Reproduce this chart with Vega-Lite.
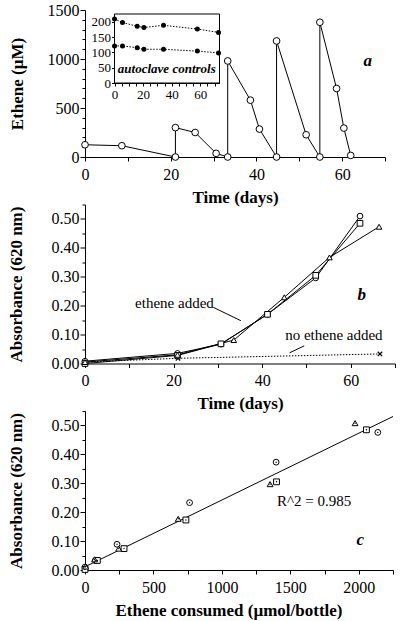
{
  "$schema": "https://vega.github.io/schema/vega-lite/v6.json",
  "background": "white",
  "padding": {"left": 6, "top": 2, "right": 4, "bottom": 4},
  "config": {
    "view": {"stroke": null},
    "font": "Liberation Serif",
    "axis": {
      "domainColor": "black", "tickColor": "black", "labelColor": "black", "titleColor": "black",
      "labelFont": "Liberation Serif", "titleFont": "Liberation Serif",
      "labelFontSize": 16, "titleFontSize": 17, "titleFontWeight": "bold",
      "grid": false, "domainWidth": 1, "tickWidth": 1, "labelFlush": false, "labelOverlap": false
    }
  },
  "datasets": {
    "a": [
      {"i": 0, "x": 0, "y": 125}, {"i": 1, "x": 8.6, "y": 115}, {"i": 2, "x": 21.1, "y": 0},
      {"i": 3, "x": 21.1, "y": 300}, {"i": 4, "x": 25.7, "y": 250}, {"i": 5, "x": 30.6, "y": 37},
      {"i": 6, "x": 33.3, "y": 0}, {"i": 7, "x": 33.3, "y": 980}, {"i": 8, "x": 38.6, "y": 580},
      {"i": 9, "x": 40.7, "y": 285}, {"i": 10, "x": 44.7, "y": 0}, {"i": 11, "x": 44.7, "y": 1184},
      {"i": 12, "x": 51.6, "y": 227}, {"i": 13, "x": 54.8, "y": 0}, {"i": 14, "x": 54.8, "y": 1375},
      {"i": 15, "x": 58.7, "y": 699}, {"i": 16, "x": 60.4, "y": 295}, {"i": 17, "x": 62.0, "y": 16}
    ],
    "inset": [
      {"s": "hi", "x": 0, "y": 209}, {"s": "hi", "x": 5.6, "y": 197}, {"s": "hi", "x": 15.9, "y": 185},
      {"s": "hi", "x": 20.6, "y": 181}, {"s": "hi", "x": 34.3, "y": 188}, {"s": "hi", "x": 58, "y": 176},
      {"s": "hi", "x": 72.8, "y": 165},
      {"s": "lo", "x": 0, "y": 121}, {"s": "lo", "x": 5.6, "y": 121}, {"s": "lo", "x": 15.9, "y": 115},
      {"s": "lo", "x": 20.6, "y": 110}, {"s": "lo", "x": 34.3, "y": 110}, {"s": "lo", "x": 58, "y": 104},
      {"s": "lo", "x": 72.8, "y": 98}
    ],
    "b": [
      {"s": "o", "x": 0, "y": 0.008}, {"s": "o", "x": 20.9, "y": 0.035}, {"s": "o", "x": 30.7, "y": 0.067},
      {"s": "o", "x": 41.2, "y": 0.17}, {"s": "o", "x": 52.1, "y": 0.296}, {"s": "o", "x": 62.1, "y": 0.51},
      {"s": "sq", "x": 0, "y": 0.0}, {"s": "sq", "x": 20.9, "y": 0.028}, {"s": "sq", "x": 30.7, "y": 0.068},
      {"s": "sq", "x": 41.2, "y": 0.17}, {"s": "sq", "x": 52.1, "y": 0.305}, {"s": "sq", "x": 62.1, "y": 0.485},
      {"s": "tri", "x": 0, "y": 0.005}, {"s": "tri", "x": 20.9, "y": 0.03}, {"s": "tri", "x": 33.6, "y": 0.081},
      {"s": "tri", "x": 45.0, "y": 0.229}, {"s": "tri", "x": 55.2, "y": 0.367}, {"s": "tri", "x": 66.4, "y": 0.473}
    ],
    "bNone": [
      {"x": 0, "y": 0.005}, {"x": 21, "y": 0.018}, {"x": 66.6, "y": 0.033}
    ],
    "bPtr": [
      {"x": 29.0, "y": 0.194, "x2": 35.2, "y2": 0.148},
      {"x": 49.5, "y": 0.061, "x2": 46.2, "y2": 0.037}
    ],
    "bText": [
      {"x": 20.2, "y": 0.21, "label": "ethene added"},
      {"x": 56.2, "y": 0.098, "label": "no ethene added"}
    ],
    "c": [
      {"s": "o", "x": 0, "y": 0.01}, {"s": "o", "x": 75, "y": 0.033}, {"s": "o", "x": 234, "y": 0.089},
      {"s": "o", "x": 764, "y": 0.233}, {"s": "o", "x": 1396, "y": 0.373}, {"s": "o", "x": 2139, "y": 0.476},
      {"s": "sq", "x": 0, "y": 0.002}, {"s": "sq", "x": 90, "y": 0.033}, {"s": "sq", "x": 285, "y": 0.074},
      {"s": "sq", "x": 737, "y": 0.173}, {"s": "sq", "x": 1399, "y": 0.305}, {"s": "sq", "x": 2056, "y": 0.485},
      {"s": "tri", "x": 5, "y": 0.012}, {"s": "tri", "x": 70, "y": 0.037}, {"s": "tri", "x": 246, "y": 0.074},
      {"s": "tri", "x": 681, "y": 0.177}, {"s": "tri", "x": 1352, "y": 0.297}, {"s": "tri", "x": 1973, "y": 0.508}
    ],
    "cFit": [{"x": 0, "y": 0.011}, {"x": 2250, "y": 0.531}]
  },
  "vconcat": [
    {
      "width": 300,
      "height": 147,
      "layer": [
        {
          "data": {"name": "a"},
          "encoding": {
            "x": {"field": "x", "type": "quantitative",
              "scale": {"domain": [0, 70], "nice": false},
              "axis": {"title": "Time  (days)", "values": [0, 10, 20, 30, 40, 50, 60, 70], "format": "d",
                "labelExpr": "datum.value % 20 === 0 ? datum.label : ''",
                "tickSize": 4, "labelPadding": 5, "titleY": 40, "titleBaseline": "middle"}},
            "y": {"field": "y", "type": "quantitative",
              "scale": {"domain": [0, 1500], "nice": false},
              "axis": {"title": "Ethene  (µM)", "format": "d",
                "values": [0, 100, 200, 300, 400, 500, 600, 700, 800, 900, 1000, 1100, 1200, 1300, 1400, 1500],
                "labelExpr": "datum.value % 500 === 0 ? datum.label : ''",
                "tickSize": {"condition": {"test": "datum.value % 500 === 0", "value": 5}, "value": 3},
                "labelPadding": 1, "titleX": -68, "titleBaseline": "middle"}}
          },
          "layer": [
            {"mark": {"type": "line", "color": "black", "strokeWidth": 1},
             "encoding": {"order": {"field": "i", "type": "quantitative"}}},
            {"mark": {"type": "point", "shape": "circle", "filled": true, "fill": "white", "stroke": "black", "strokeWidth": 1, "size": 45, "opacity": 1}},
            {"data": {"values": [{"x": 66, "y": 981, "label": "a"}]},
             "mark": {"type": "text", "font": "Liberation Serif", "fontSize": 17, "fontStyle": "italic", "fontWeight": "bold", "color": "black"},
             "encoding": {"text": {"field": "label"}}}
          ]
        },
        {
          "data": {"name": "inset"},
          "encoding": {
            "x": {"field": "x", "type": "quantitative",
              "scale": {"domain": [0, 73.5], "range": [29.5, 134.5], "nice": false},
              "axis": {"title": null, "orient": "bottom", "offset": -74, "format": "d",
                "values": [0, 5, 10, 15, 20, 25, 30, 35, 40, 45, 50, 55, 60, 65, 70],
                "labelExpr": "datum.value % 20 === 0 ? datum.label : ''",
                "labelFontSize": 13, "tickSize": 3, "labelPadding": 2}},
            "y": {"field": "y", "type": "quantitative",
              "scale": {"domain": [0, 225], "range": [73, 4], "nice": false},
              "axis": {"title": null, "orient": "left", "offset": -29.5, "format": "d",
                "values": [0, 50, 100, 150, 200],
                "labelFontSize": 13, "tickSize": 3, "labelPadding": 1}}
          },
          "layer": [
            {"data": {"values": [{"x": 0, "x2": 73.5, "y": 0, "y2": 225}]},
             "mark": {"type": "rect", "fill": "white", "stroke": "black", "strokeWidth": 1},
             "encoding": {"x2": {"field": "x2"}, "y2": {"field": "y2"}}},
            {"mark": {"type": "line", "color": "black", "strokeWidth": 1, "strokeDash": [1.5, 1.5]},
             "encoding": {"detail": {"field": "s"}}},
            {"mark": {"type": "point", "shape": "circle", "filled": true, "color": "black", "size": 25, "opacity": 1}},
            {"data": {"values": [{"x": 36.6, "y": 44.7, "label": "autoclave controls"}]},
             "mark": {"type": "text", "font": "Liberation Serif", "fontSize": 13, "fontStyle": "italic", "fontWeight": "bold", "color": "black"},
             "encoding": {"text": {"field": "label"}}}
          ]
        }
      ],
      "resolve": {"scale": {"x": "independent", "y": "independent"}}
    },
    {
      "width": 310,
      "height": 159,
      "encoding": {
        "x": {"field": "x", "type": "quantitative",
          "scale": {"domain": [0, 70], "nice": false},
          "axis": {"title": "Time  (days)", "values": [0, 10, 20, 30, 40, 50, 60, 70], "format": "d",
            "labelExpr": "datum.value % 20 === 0 ? datum.label : ''",
            "tickSize": 4, "labelPadding": 5, "titleY": 40, "titleBaseline": "middle"}},
        "y": {"field": "y", "type": "quantitative",
          "scale": {"domain": [0, 0.55], "nice": false},
          "axis": {"title": "Absorbance  (620 nm)",
            "values": [0, 0.05, 0.1, 0.15, 0.2, 0.25, 0.3, 0.35, 0.4, 0.45, 0.5, 0.55],
            "labelExpr": "round(datum.value * 100) % 10 === 0 ? format(datum.value, '.2f') : ''",
            "tickSize": {"condition": {"test": "round(datum.value * 100) % 10 === 0", "value": 5}, "value": 3},
            "labelPadding": 1, "titleX": -69, "titleBaseline": "middle"}}
      },
      "layer": [
        {"data": {"name": "bNone"},
         "mark": {"type": "line", "color": "black", "strokeWidth": 1, "strokeDash": [1.5, 1.5]}},
        {"data": {"name": "bNone"},
         "mark": {"type": "point", "shape": "M-1,-1L1,1M1,-1L-1,1", "filled": false, "stroke": "black", "strokeWidth": 1.2, "size": 20, "opacity": 1}},
        {"data": {"name": "b"},
         "mark": {"type": "line", "color": "black", "strokeWidth": 1},
         "encoding": {"detail": {"field": "s"}}},
        {"data": {"name": "b"},
         "mark": {"type": "point", "filled": true, "fill": "white", "stroke": "black", "strokeWidth": 1, "size": 32, "opacity": 1},
         "encoding": {"shape": {"field": "s", "type": "nominal",
           "scale": {"domain": ["o", "sq", "tri"], "range": ["circle", "square", "triangle-up"]}, "legend": null}}},
        {"data": {"name": "bPtr"},
         "mark": {"type": "rule", "color": "black", "strokeWidth": 1},
         "encoding": {"x2": {"field": "x2"}, "y2": {"field": "y2"}}},
        {"data": {"name": "bText"},
         "mark": {"type": "text", "font": "Liberation Serif", "fontSize": 15, "color": "black"},
         "encoding": {"text": {"field": "label"}}},
        {"data": {"values": [{"x": 62.5, "y": 0.237, "label": "b"}]},
         "mark": {"type": "text", "font": "Liberation Serif", "fontSize": 17, "fontStyle": "italic", "fontWeight": "bold", "color": "black"},
         "encoding": {"text": {"field": "label"}}}
      ]
    },
    {
      "width": 308,
      "height": 159,
      "encoding": {
        "x": {"field": "x", "type": "quantitative",
          "scale": {"domain": [0, 2250], "nice": false},
          "axis": {"title": "Ethene  consumed  (µmol/bottle)", "format": "d",
            "values": [0, 250, 500, 750, 1000, 1250, 1500, 1750, 2000, 2250],
            "labelExpr": "datum.value % 500 === 0 ? datum.label : ''",
            "tickSize": 4, "labelPadding": 5, "titleY": 40, "titleX": 143.5, "titleBaseline": "middle"}},
        "y": {"field": "y", "type": "quantitative",
          "scale": {"domain": [0, 0.55], "nice": false},
          "axis": {"title": "Absorbance  (620 nm)",
            "values": [0, 0.05, 0.1, 0.15, 0.2, 0.25, 0.3, 0.35, 0.4, 0.45, 0.5, 0.55],
            "labelExpr": "round(datum.value * 100) % 10 === 0 ? format(datum.value, '.2f') : ''",
            "tickSize": {"condition": {"test": "round(datum.value * 100) % 10 === 0", "value": 5}, "value": 3},
            "labelPadding": 1, "titleX": -69, "titleBaseline": "middle"}}
      },
      "layer": [
        {"data": {"name": "cFit"},
         "mark": {"type": "line", "color": "black", "strokeWidth": 1}},
        {"data": {"name": "c"},
         "mark": {"type": "point", "filled": true, "fill": "white", "stroke": "black", "strokeWidth": 1, "size": 34, "opacity": 1},
         "encoding": {"shape": {"field": "s", "type": "nominal",
           "scale": {"domain": ["o", "sq", "tri"], "range": ["circle", "square", "triangle-up"]}, "legend": null}}},
        {"data": {"name": "c"},
         "mark": {"type": "point", "shape": "circle", "filled": true, "color": "black", "size": 2, "opacity": 1}},
        {"data": {"values": [{"x": 1674, "y": 0.24, "label": "R^2 = 0.985"}]},
         "mark": {"type": "text", "font": "Liberation Serif", "fontSize": 15, "color": "black"},
         "encoding": {"text": {"field": "label"}}},
        {"data": {"values": [{"x": 2010, "y": 0.104, "label": "c"}]},
         "mark": {"type": "text", "font": "Liberation Serif", "fontSize": 17, "fontStyle": "italic", "fontWeight": "bold", "color": "black"},
         "encoding": {"text": {"field": "label"}}}
      ]
    }
  ],
  "spacing": 47.5,
  "bounds": "flush"
}
